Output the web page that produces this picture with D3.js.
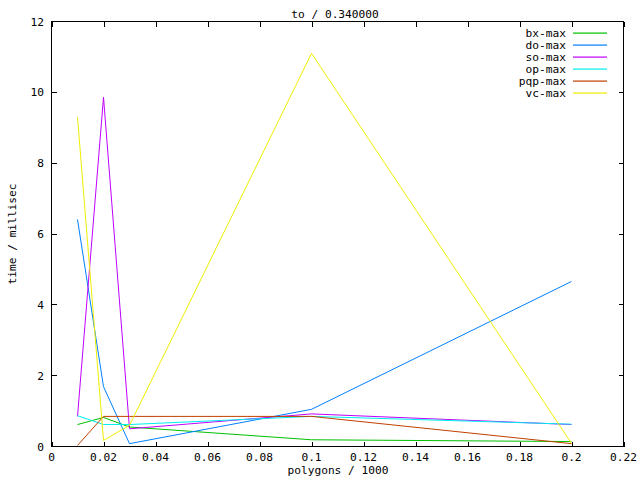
<!DOCTYPE html>
<html><head><meta charset="utf-8">
<script src="https://cdn.jsdelivr.net/npm/d3@7"></script>
<style>body{margin:0;background:#fff}svg{display:block}text{font-family:"DejaVu Sans Mono","Liberation Mono",monospace;font-size:11.2px;fill:#000}</style>
</head><body>
<script>
const xValues = [0.01, 0.02, 0.03, 0.1, 0.2];
const seriesNames = ["bx-max", "do-max", "so-max", "op-max", "pqp-max", "vc-max"];
const bxMax  = [0.62, 0.82, 0.55, 0.19, 0.14];
const doMax  = [6.41, 1.69, 0.08, 1.05, 4.66];
const soMax  = [0.85, 9.86, 0.50, 0.92, 0.62];
const opMax  = [0.87, 0.62, 0.62, 0.85, 0.63];
const pqpMax = [0.03, 0.85, 0.85, 0.85, 0.08];
const vcMax  = [9.30, 0.17, 0.60, 11.10, 0.09];
const seriesValues = [bxMax, doMax, soMax, opMax, pqpMax, vcMax];
const colors = ["#00c000", "#0080ff", "#c000ff", "#00eeee", "#c04000", "#eeee00"];
const xTicks = [0, 0.02, 0.04, 0.06, 0.08, 0.1, 0.12, 0.14, 0.16, 0.18, 0.2, 0.22];
const yTicks = [0, 2, 4, 6, 8, 10, 12];
const titleText = "to / 0.340000";
const xLabel = "polygons / 1000";
const yLabel = "time / millisec";

const W = 640, H = 480;
const L = 51.5, R = 623.5, T = 21.5, B = 446.5;
const svg = d3.select("body").append("svg").attr("width", W).attr("height", H);
const x = d3.scaleLinear().domain([0, 0.22]).range([L, R]);
const y = d3.scaleLinear().domain([0, 12]).range([B, T]);
const tl = 5;

const tg = svg.append("g").attr("stroke", "#000").attr("shape-rendering", "crispEdges");
xTicks.forEach(v => {
  const px = Math.round(x(v)) + 0.5;
  tg.append("line").attr("x1", px).attr("x2", px).attr("y1", B).attr("y2", B - tl);
  tg.append("line").attr("x1", px).attr("x2", px).attr("y1", T).attr("y2", T + tl);
});
yTicks.forEach(v => {
  const py = Math.round(y(v) - 0.5) + 0.5;
  tg.append("line").attr("x1", L).attr("x2", L + tl).attr("y1", py).attr("y2", py);
  tg.append("line").attr("x1", R).attr("x2", R - tl).attr("y1", py).attr("y2", py);
});
svg.append("rect").attr("x", L).attr("y", T).attr("width", R - L).attr("height", B - T)
  .attr("fill", "none").attr("stroke", "#000").attr("shape-rendering", "crispEdges");

svg.append("g").selectAll("text").data(xTicks).join("text")
  .attr("x", d => x(d)).attr("y", B + 14).attr("text-anchor", "middle")
  .text(d => d3.format("~g")(d));
svg.append("g").selectAll("text").data(yTicks).join("text")
  .attr("x", 44).attr("y", d => y(d) + 4).attr("text-anchor", "end")
  .text(d => d);

svg.append("text").attr("x", 335).attr("y", 18).attr("text-anchor", "middle").text(titleText);
svg.append("text").attr("x", 338).attr("y", 474).attr("text-anchor", "middle").text(xLabel);
svg.append("text").attr("transform", `translate(16,${(T + B) / 2}) rotate(-90)`)
  .attr("text-anchor", "middle").text(yLabel);

const line = d3.line().x((d, i) => x(xValues[i])).y(d => y(d));
seriesValues.forEach((vals, k) => {
  svg.append("path").datum(vals).attr("d", line).attr("fill", "none")
    .attr("stroke", colors[k]).attr("stroke-width", 1);
  const ly = 33 + k * 12;
  svg.append("text").attr("x", 566).attr("y", ly + 4).attr("text-anchor", "end").text(seriesNames[k]);
  svg.append("rect").attr("x", 573).attr("y", ly - 0.5).attr("width", 34).attr("height", 1.2)
    .attr("fill", colors[k]);
});
</script>
</body></html>
